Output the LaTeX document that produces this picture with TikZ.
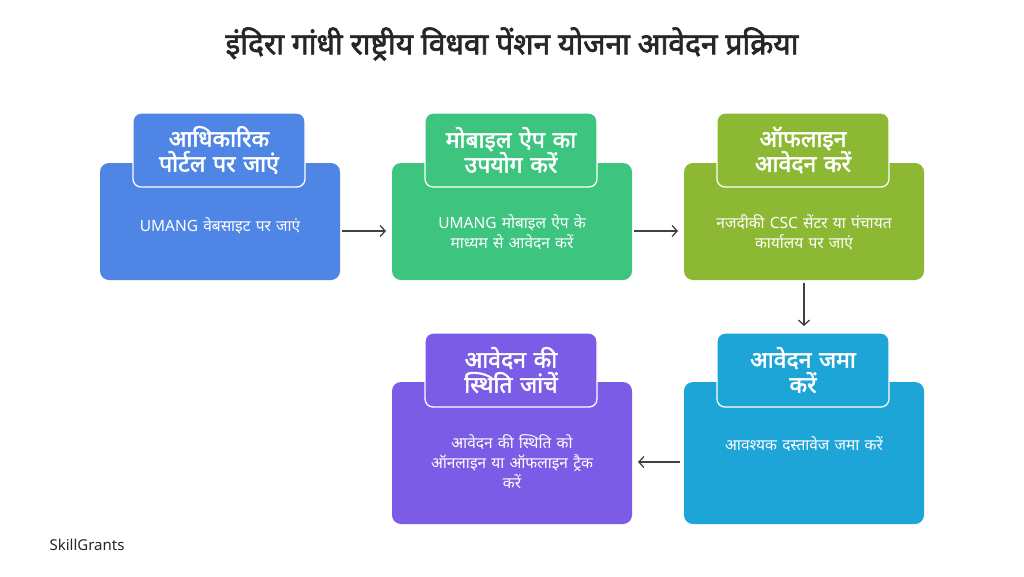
\documentclass[tikz,border=0pt]{standalone}
\usepackage{fontspec}
\setmainfont[Script=Devanagari]{Noto Sans}
\newfontfamily\bdev[Script=Devanagari, FakeBold=2.2]{Noto Sans}
\usetikzlibrary{arrows.meta}
\definecolor{cblue}{HTML}{4F86E6}
\definecolor{cgreen}{HTML}{3DC47E}
\definecolor{colive}{HTML}{8DB833}
\definecolor{ccyan}{HTML}{1EA5D8}
\definecolor{cpurple}{HTML}{7B5CE6}
\tikzset{
 tabbox/.style={rounded corners=8pt, draw=white, line width=1.3pt, minimum width=172pt, minimum height=74pt, text=white, font=\bdev\fontsize{23}{25}\selectfont, align=center, text width=170pt, inner sep=0pt},
 btxt/.style={text=white, font=\fontsize{15.5}{20}\selectfont, align=center, text width=225pt},
 flow/.style={-{Straight Barb[length=5pt,width=11pt]}, draw=black!75, line width=1.3pt}
}
\begin{document}
\begin{tikzpicture}[x=1pt,y=-1pt]
\useasboundingbox (0,0) rectangle (1024,576);
\fill[white] (0,0) rectangle (1024,576);
\node[font=\bdev\fontsize{30}{33}\selectfont, text=black!85] (title) at (512,44) {इंदिरा गांधी राष्ट्रीय विधवा पेंशन योजना आवेदन प्रक्रिया};
\fill[cblue, rounded corners=9pt] (100,163) rectangle (340,280);
\node[tabbox, fill=cblue] (t1) at (219,150) {आधिकारिक\\पोर्टल पर जाएं};
\node[btxt] (b1) at (220,226) {UMANG वेबसाइट पर जाएं};
\coordinate (r1) at (342,231);
\fill[cgreen, rounded corners=9pt] (392,163) rectangle (632,280);
\node[tabbox, fill=cgreen] (t2) at (511,150) {मोबाइल ऐप का\\उपयोग करें};
\node[btxt] (b2) at (512,232) {UMANG मोबाइल ऐप के\\माध्यम से आवेदन करें};
\coordinate (l2) at (386,231);
\coordinate (r2) at (634,231);
\fill[colive, rounded corners=9pt] (684,163) rectangle (924,280);
\node[tabbox, fill=colive] (t3) at (803,150) {ऑफलाइन\\आवेदन करें};
\node[btxt] (b3) at (804,232) {नजदीकी CSC सेंटर या पंचायत\\कार्यालय पर जाएं};
\coordinate (l3) at (678,231);
\coordinate (d3) at (804,283);
\fill[ccyan, rounded corners=9pt] (684,382) rectangle (924,524);
\node[tabbox, fill=ccyan] (t4) at (803,370) {आवेदन जमा\\करें};
\node[btxt] (b4) at (804,444) {आवश्यक दस्तावेज जमा करें};
\coordinate (u4) at (804,326);
\coordinate (l4) at (680,462);
\fill[cpurple, rounded corners=9pt] (392,382) rectangle (632,524);
\node[tabbox, fill=cpurple] (t5) at (511,370) {आवेदन की\\स्थिति जांचें};
\node[btxt] (b5) at (512,462) {आवेदन की स्थिति को\\ऑनलाइन या ऑफलाइन ट्रैक\\करें};
\coordinate (r5) at (638,462);
\draw[flow] (r1) -- (l2);
\draw[flow] (r2) -- (l3);
\draw[flow] (d3) -- (u4);
\draw[flow] (l4) -- (r5);
\node[anchor=west, font=\fontsize{15}{17}\selectfont, text=black!85] (brand) at (46,545) {SkillGrants};
\end{tikzpicture}
\end{document}
